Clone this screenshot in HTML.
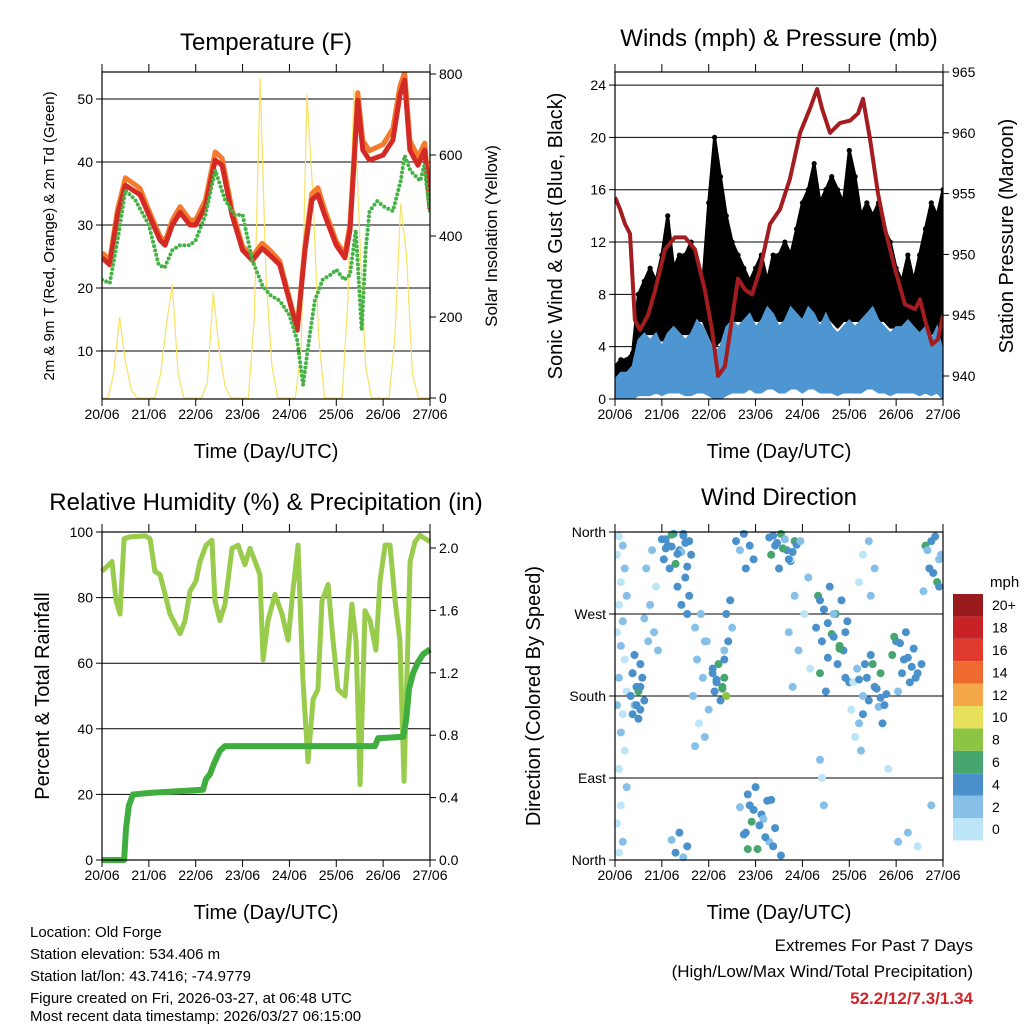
<!DOCTYPE html>
<html><head><meta charset="utf-8">
<style>
html,body{margin:0;padding:0;background:#fff;}
svg{display:block;font-family:"Liberation Sans",sans-serif;}
</style></head>
<body>
<svg id="chart" width="1024" height="1024" viewBox="0 0 1024 1024" xmlns="http://www.w3.org/2000/svg">
<rect width="1024" height="1024" fill="#fff"/>
<g id="g1"></g>
<g id="g2"></g>
<g id="g3"></g>
<g id="g4"></g>
<text x="266" y="50" font-size="24" text-anchor="middle">Temperature (F)</text>
<text x="779" y="46" font-size="24" text-anchor="middle">Winds (mph) &amp; Pressure (mb)</text>
<text x="266" y="510" font-size="24" text-anchor="middle">Relative Humidity (%) &amp; Precipitation (in)</text>
<text x="779" y="505" font-size="24" text-anchor="middle">Wind Direction</text>
<text x="266" y="458" font-size="20" text-anchor="middle">Time (Day/UTC)</text>
<text x="779" y="458" font-size="20" text-anchor="middle">Time (Day/UTC)</text>
<text x="266" y="919" font-size="20" text-anchor="middle">Time (Day/UTC)</text>
<text x="779" y="919" font-size="20" text-anchor="middle">Time (Day/UTC)</text>
<text transform="translate(54,236) rotate(-90)" font-size="15" text-anchor="middle">2m &amp; 9m T (Red, Orange) &amp; 2m Td (Green)</text>
<text transform="translate(497,236) rotate(-90)" font-size="17" text-anchor="middle">Solar Insolation (Yellow)</text>
<text transform="translate(562,236) rotate(-90)" font-size="20" text-anchor="middle">Sonic Wind &amp; Gust (Blue, Black)</text>
<text transform="translate(1013,236) rotate(-90)" font-size="20" text-anchor="middle">Station Pressure (Maroon)</text>
<text transform="translate(49,696) rotate(-90)" font-size="20" text-anchor="middle">Percent &amp; Total Rainfall</text>
<text transform="translate(540,696) rotate(-90)" font-size="20" text-anchor="middle">Direction (Colored By Speed)</text>
<g font-size="15">
<text x="30" y="937">Location: Old Forge</text>
<text x="30" y="959">Station elevation: 534.406 m</text>
<text x="30" y="981">Station lat/lon: 43.7416; -74.9779</text>
<text x="30" y="1003">Figure created on Fri, 2026-03-27, at 06:48 UTC</text>
<text x="30" y="1021">Most recent data timestamp: 2026/03/27 06:15:00</text>
</g>
<text x="973" y="951" font-size="17" text-anchor="end">Extremes For Past 7 Days</text>
<text x="973" y="977" font-size="17" text-anchor="end">(High/Low/Max Wind/Total Precipitation)</text>
<text x="973" y="1004" font-size="17" font-weight="bold" fill="#d0262b" text-anchor="end">52.2/12/7.3/1.34</text>
</svg>
<script>
// ---------- DATA ----------
const dayLabels = ["20/06","21/06","22/06","23/06","24/06","25/06","26/06","27/06"];
const tempTicks = [10,20,30,40,50];
const solarTicks = [0,200,400,600,800];
const windTicks = [0,4,8,12,16,20,24];
const pressTicks = [940,945,950,955,960,965];
const rhTicks = [0,20,40,60,80,100];
const rainTicks = ["0.0","0.4","0.8","1.2","1.6","2.0"];
const dirTicks = ["North","East","South","West","North"];
const dirTickVals = [0,90,180,270,360];
const speedLabels = ["0","2","4","6","8","10","12","14","16","18","20+"];
const speedColors = ["#bde5f8","#86c0e8","#4a91cb","#46a66e","#8bc543","#e6e05a","#f5a84a","#ef6a2e","#df3a2d","#c82126","#9a1b1e"];

const tempHour = [0,4,8,12,16,19.5,24,29.7,32.3,36,40,45,48,53,58,61.5,66.6,72,77,82,86,91,96,100,104,107.5,110.6,114,120,124.4,127,131,133.6,137,144,149,152.6,155,157.7,161.8,165.3,168];
const temp2m = [24.8,23.7,31.6,36.3,35.5,34.8,31.6,27.6,26.8,30,32,30,30,33,40.3,39.5,31.6,26,24.4,26.3,25.2,23.7,18,13.3,26,34,34.8,31.6,26.8,24.8,29.2,49.8,41.9,40.3,41.1,43.5,50.6,53,41.9,39.5,41.9,32.5];
const temp9m = [25.6,24.5,32.5,37.5,36.6,35.8,32.3,28.2,27.4,30.8,32.9,30.8,30.8,34,41.6,40.6,32.4,26.6,25,27.1,26,24.3,18.4,13.6,26.8,35,35.9,32.5,27.4,25.4,30.1,51,43.4,41.8,42.8,45.3,52,54.2,43.4,40.8,43,33.2];
const dewHour = [0,4,8,12,17,24,29,32,36,40,45,48,53,58,63,68,72,77,82,86,91,96,100,103,106,109,113,117,120,124,127,130,133,135,137,141,144,149,153,155,158,163,165,168];
const dew2m = [21.3,20.8,27.6,35.5,34,30,23.7,23.2,26,26.8,26.8,27.6,31.6,38.7,34,31.6,31.6,24.4,20.5,18.9,18,15.7,11.7,4.6,11.7,18,21.3,22.1,22.9,21.3,22.1,29.2,13.3,25.9,32.2,33.8,33,32.2,37,41,38.6,37,39.4,32];
const solar = [0,0,60,200,90,20,0,0,0,0,60,180,280,60,0,0,0,0,40,260,120,30,0,0,0,0,200,790,300,80,0,0,0,0,120,750,500,150,0,0,0,0,250,760,400,80,0,0,0,0,150,480,350,60,0,0,0];

const windHi = [1.5,2,2,2.5,4.5,5,4.5,5,4,5,5.5,5,4.5,5,6,5.5,4.5,3.5,4,5.5,6,5.5,6,6.5,5.5,6,7,6.5,5.5,6,7,6.5,6,7,6.5,5.5,6.5,5.5,5,5.5,6,5.5,6,6.5,7,6,5.5,5,5.5,5.5,6,5.5,5,5.5,4.5,5.5,3.5];
const windLo = [0,0,0,0,0.3,0.3,0.3,0.5,0.3,0.5,0.5,0.5,0.3,0.3,0.5,0.5,0.3,0,0,0.3,0.5,0.5,0.5,0.8,0.5,0.5,0.8,0.8,0.5,0.5,0.8,0.8,0.5,0.8,0.8,0.5,0.5,0.5,0.3,0.5,0.5,0.5,0.5,0.8,0.8,0.5,0.5,0.3,0.5,0.5,0.5,0.5,0.3,0.5,0.3,0.5,0];
const gustHi = [2.5,3,3,3.5,8,9,10,9,11,14,10,11,11,12,10,9,15,20,17,14,12,11,10,9,10,11,9,11,11,12,11,13,15,16,18,15,16,17,16,15,19,17,14,15,14,15,13,12,10,9,11,9,11,13,15,14,16];
const gustLo = [1,1.5,1.5,2,4,5,5,5,4.5,5,5.5,5,5,5,6,6,5,4,4.5,5.5,6,6,6,6.5,6,6,7,6.5,6,6,7,6.5,6,7,6.5,6,6.5,6,5.5,6,6,6,6,6.5,7,6,6,5.5,5.5,5.5,6,5.5,5,5.5,5,5.5,4];
const pressHour = [0,2.6,5.1,7.7,10.2,12.8,16.9,20.5,25.6,30.7,35.9,41,46.1,49.7,52.8,56.3,59.9,63,66.6,70.2,74.3,79.4,84.5,89.6,94.8,99.9,103.5,106,110.1,115.2,120.4,124.5,127,130.6,134.7,138.3,143.4,148.5,153.7,156.2,158.8,162.4,165.4,168];
const pressure = [954.7,953.7,952.5,951.7,944.6,943.8,945,947,950.4,951.4,951.4,950.4,947,943.8,940,940.8,944.6,948,947.1,946.7,948.8,952.5,953.7,956.2,960,962,963.6,962,960,960.8,961,961.6,962.8,959.5,955,952.1,948.8,945.9,945.5,946.3,944.6,942.6,943,945];

const rhHour = [0,5.1,7.2,9.2,11.3,14.3,22,24.6,27.1,29.7,32.3,34.8,37.4,40,42.5,45.1,48.1,50.2,53.3,56.3,57.9,60.4,63,66.6,69.7,73.2,75.8,78.4,80.9,82.5,85,88.6,92.2,95.3,97.8,100.4,102.9,105.5,108.1,110.6,112.7,115.8,118.3,120.9,124.5,128,130.1,132.2,134.7,137.3,140.3,142.4,145,147.5,150.1,152.6,154.7,157.8,160.3,162.9,168];
const rhVal = [88,91,79,75,98,98.5,98.8,98,88,87,81,75,72,69,73,82,85,91,96,97.5,79,73,78,95,96,90,95,91,87,61,73,81,75,67,82,96,55,30,49,52,79,84,67,52,50,78,67,23,76,73,64,85,96,96,79,67,24,91,97,99,97];
const rainHour = [0,11.3,12.3,13.8,15.9,24.6,51.7,53.3,55.3,57.4,60.4,63,101,139.8,141.4,154.2,155.8,157.3,159.4,161.9,164.5,168];
const rainVal = [0,0,0.2,0.35,0.42,0.43,0.45,0.52,0.55,0.62,0.7,0.73,0.73,0.73,0.78,0.79,0.9,1.1,1.2,1.27,1.32,1.35];

const wdHour = [2,4,1,5,3,6,2,4,1,3,5,2,6,1,4,3,5,2,6,3,1,4,2,
 10,13,9,14,11,12,8,15,10,13,9,12,
 19,16,21,18,15,20,17,22,
 30,24,36,27,33,39,25,31,28,35,38,26,34,29,
 36,32,38,34,37,
 44,41,47,42,45,40,48,43,46,41,
 53,50,56,52,55,51,57,54,50,56,
 59,57,60,58,56,
 66,62,69,64,71,67,
 85,79,92,82,88,80,90,84,87,93,
 95,90,99,92,97,89,94,100,91,
 72,68,78,64,75,70,82,66,79,73,85,69,76,67,81,33,29,37,31,35,
 110,104,116,107,113,119,103,111,106,117,109,114,105,120,108,112,118,115,
 124,122,127,121,125,123,126,
 131,128,136,125,133,139,130,135,127,137,
 149,144,153,142,157,147,151,145,155,148,
 130,127,133,125,131,
 164,159,167,161,165,158,162,166,
 105,106,107,150,155,162,140,145,
 26,32,37,29,35, 81,86,89,83,91, 71,74,77,80,68, 105,109,115,118,112,107, 129,134,138,132,136, 146,150,154,143,152, 160,163,166, 46,52,55,13,11,9];
const wdDir = [355,345,335,320,305,290,280,262,250,235,220,200,185,170,160,140,120,100,80,60,40,20,8,
 225,215,205,200,190,185,180,175,170,165,160,155,
 340,320,300,280,265,250,240,230,
 358,352,348,345,340,335,330,325,320,356,350,342,338,357,
 310,300,290,280,270,
 270,255,240,220,200,180,165,150,135,125,
 215,205,200,195,190,185,180,175,210,220,
 285,270,255,240,230,
 358,350,345,340,330,320,
 358,354,350,345,340,335,328,320,352,346,
 350,330,310,290,270,250,230,210,190,
 80,72,65,58,50,42,35,28,20,12,5,60,45,30,15,30,22,15,8,3,
 300,290,285,275,270,262,255,248,240,230,222,215,205,195,185,270,250,232,
 210,195,180,165,150,135,120,
 225,215,205,198,190,182,175,168,160,150,
 250,240,232,225,215,205,195,185,205,220,
 350,335,320,305,290,
 355,345,335,320,305,295,350,330,
 110,90,60,30,15,60,100,20,
 352,336,322,344,358, 356,342,330,348,338, 55,38,25,66,12, 285,260,235,200,245,275, 200,188,170,215,178, 238,222,200,245,212, 340,315,300, 240,198,188, 190,170,205];
const wdSpeed = [0,1,0,1,0,1,0,1,0,1,0,1,0,1,0,1,0,0,1,0,0,1,0,
 3,4,3,4,3,6,4,3,2,3,4,3,
 1,1,0,2,1,1,2,1,
 4,3,4,3,4,3,4,6,3,4,3,4,2,6,
 4,4,3,4,4,
 1,2,1,2,1,2,1,0,1,2,
 6,4,6,3,6,4,7,3,4,3,
 3,4,2,3,2,
 3,4,3,2,4,3,
 6,4,6,3,4,6,3,4,2,4,
 1,0,1,1,0,1,1,0,2,
 4,3,4,2,4,6,3,4,2,6,4,3,2,4,3,3,2,4,3,1,
 4,6,3,4,6,3,4,6,3,4,3,4,6,3,4,2,4,6,
 1,0,1,0,1,0,1,
 4,3,6,4,3,4,3,2,4,3,
 4,3,4,6,3,4,3,2,4,3,
 1,0,1,0,1,
 3,6,2,4,6,1,3,2,
 1,0,1,1,0,1,0,1,
 4,3,4,4,3, 4,6,4,3,4, 4,3,4,4,6, 4,4,6,4,3,4, 4,3,4,6,4, 4,3,4,6,4, 2,3,4, 2,4,6,4,3,4];

// ---------- HELPERS ----------
const NS = "http://www.w3.org/2000/svg";
function mk(tag, attrs, parent){const e=document.createElementNS(NS,tag);for(const k in attrs)e.setAttribute(k,attrs[k]);parent.appendChild(e);return e;}
const hourToX = (x0,x1) => h => x0 + h/168*(x1-x0);
const idxHour = (i,n) => i*168/(n-1);

function frame(g, x0,y0,x1,y1, prefix){
  for(let i=0;i<dayLabels.length;i++){
    const x = x0 + i*(x1-x0)/7;
    const t1 = mk('line',{x1:x,y1:y1,x2:x,y2:y1+7,stroke:'#000','stroke-width':1},g);
    
    
    const t2 = mk('line',{x1:x,y1:y0,x2:x,y2:y0-8,stroke:'#000','stroke-width':1},g);
    
    
    const lb = mk('text',{x:x,y:y1+20,'font-size':14,'text-anchor':'middle'},g);
    lb.textContent = dayLabels[i];
    
    
  }
}
function box(g,x0,y0,x1,y1,prefix){
  const r = mk('rect',{x:x0,y:y0,width:x1-x0,height:y1-y0,fill:'none',stroke:'#000','stroke-width':1.2},g);
  
  
}
function yTicks(g, vals, labels, yf, x, side, grid, x0, x1, prefix){
  for(let i=0;i<vals.length;i++){
    const y = yf(vals[i]);
    if(grid){
      const gl = mk('line',{x1:x0,y1:y,x2:x1,y2:y,stroke:'#000','stroke-width':1},g);
      
      
    }
    const tk = mk('line',{x1:x,y1:y,x2:x+(side==='left'?-6:6),y2:y,stroke:'#000','stroke-width':1},g);
    
    
    const t = mk('text',{x:x+(side==='left'?-9:9),y:y+5,'font-size':14,'text-anchor':side==='left'?'end':'start'},g);
    t.textContent = labels[i];
    
    
  }
}
function pts(hs, vs, xf, yf){return hs.map((h,i)=>xf(h).toFixed(1)+','+yf(vs[i]).toFixed(1)).join(' ');}

// ---------- PANEL 1: TEMPERATURE ----------
(function(){
  const g = document.getElementById('g1');
  const X0=102,X1=430,Y0=72,Y1=399;
  const tx = hourToX(X0,X1);
  const ty = v => 351-(v-10)*6.3;
  const sy = w => 398-w*0.405;
  yTicks(g,tempTicks,tempTicks.map(String),ty,X0,'left',true,X0,X1,'temp-y');
  yTicks(g,solarTicks,solarTicks.map(String),sy,X1,'right',false,X0,X1,'solar-y');
  const cp = mk('clipPath',{id:'c1'},g); mk('rect',{x:X0,y:Y0,width:X1-X0,height:Y1-Y0},cp);
  const d = mk('g',{'clip-path':'url(#c1)'},g);
  const sl = mk('polyline',{points:pts(solar.map((_,i)=>idxHour(i,solar.length)),solar,tx,sy),fill:'none',stroke:'#f8e263','stroke-width':1.2},d);
  
  
  const ol = mk('polyline',{points:pts(tempHour,temp9m,tx,ty),fill:'none',stroke:'#f47b2e','stroke-width':5,'stroke-linejoin':'round'},d);
  
  
  const rl = mk('polyline',{points:pts(tempHour,temp2m,tx,ty),fill:'none',stroke:'#d42a26','stroke-width':5,'stroke-linejoin':'round'},d);
  
  
  const gl = mk('polyline',{points:pts(dewHour,dew2m,tx,ty),fill:'none',stroke:'#44b244','stroke-width':4,'stroke-linecap':'round','stroke-dasharray':'0 4.5','stroke-linejoin':'round'},d);
  
  
  box(g,X0,Y0,X1,Y1,'temp');
  frame(g,X0,Y0,X1,Y1,'temp');
})();

// ---------- PANEL 2: WINDS ----------
(function(){
  const g = document.getElementById('g2');
  const X0=615,X1=943,Y0=72,Y1=399;
  const wx = hourToX(X0,X1);
  const wy = v => 399-v*13.08;
  const py = p => 376-(p-940)*12.16;
  yTicks(g,windTicks,windTicks.map(String),wy,X0,'left',true,X0,X1,'wind-y');
  yTicks(g,pressTicks,pressTicks.map(String),py,X1,'right',false,X0,X1,'pressure-y');
  const cp = mk('clipPath',{id:'c2'},g); mk('rect',{x:X0,y:Y0,width:X1-X0,height:Y1-Y0},cp);
  const d = mk('g',{'clip-path':'url(#c2)'},g);
  const gh = gustHi.map((_,i)=>idxHour(i,gustHi.length));
  const gustPoly = pts(gh,gustHi,wx,wy)+' '+pts(gh.slice().reverse(),gustLo.slice().reverse(),wx,wy);
  const gb = mk('polygon',{points:gustPoly,fill:'#000',stroke:'#000','stroke-width':3,'stroke-linejoin':'round'},d);
  
  
  for(let i=0;i<gustHi.length;i++){
    const c = mk('circle',{cx:wx(gh[i]),cy:wy(gustHi[i]),r:2.6,fill:'#000'},d);
    
    
  }
  const wh = windHi.map((_,i)=>idxHour(i,windHi.length));
  const windPoly = pts(wh,windHi,wx,wy)+' '+pts(wh.slice().reverse(),windLo.slice().reverse(),wx,wy);
  const wb = mk('polygon',{points:windPoly,fill:'#4e96d2',stroke:'#4e96d2','stroke-width':2},d);
  
  
  const pl = mk('polyline',{points:pts(pressHour,pressure,wx,py),fill:'none',stroke:'#a31c1f','stroke-width':4,'stroke-linejoin':'round'},d);
  
  
  box(g,X0,Y0,X1,Y1,'winds');
  frame(g,X0,Y0,X1,Y1,'winds');
})();

// ---------- PANEL 3: HUMIDITY ----------
(function(){
  const g = document.getElementById('g3');
  const X0=102,X1=430,Y0=532,Y1=860;
  const rx = hourToX(X0,X1);
  const ry = p => 860-p*3.28;
  const iy = v => 860-v*156;
  yTicks(g,rhTicks,rhTicks.map(String),ry,X0,'left',true,X0,X1,'rh-y');
  yTicks(g,rainTicks.map(Number),rainTicks,iy,X1,'right',false,X0,X1,'rain-y');
  const cp = mk('clipPath',{id:'c3'},g); mk('rect',{x:X0-3,y:Y0-3,width:X1-X0+6,height:Y1-Y0+6},cp);
  const d = mk('g',{'clip-path':'url(#c3)'},g);
  const rl = mk('polyline',{points:pts(rhHour,rhVal,rx,ry),fill:'none',stroke:'#99cc4c','stroke-width':5,'stroke-linejoin':'round'},d);
  
  
  const pl = mk('polyline',{points:pts(rainHour,rainVal,rx,iy),fill:'none',stroke:'#3fae3f','stroke-width':6,'stroke-linejoin':'round'},d);
  
  
  box(g,X0,Y0,X1,Y1,'rh');
  frame(g,X0,Y0,X1,Y1,'rh');
})();

// ---------- PANEL 4: WIND DIRECTION ----------
(function(){
  const g = document.getElementById('g4');
  const X0=615,X1=943,Y0=532,Y1=860;
  const dx = hourToX(X0,X1);
  const dy = v => 860-v/360*328;
  yTicks(g,dirTickVals,dirTicks,dy,X0,'left',true,X0,X1,'direction-y');
  const cp = mk('clipPath',{id:'c4'},g); mk('rect',{x:X0,y:Y0-4,width:X1-X0,height:Y1-Y0+8},cp);
  const d = mk('g',{'clip-path':'url(#c4)'},g);
  for(let i=0;i<wdHour.length;i++){
    const ci = Math.min(10,Math.floor(wdSpeed[i]/2+0.5));
    const c = mk('circle',{cx:dx(wdHour[i]),cy:dy(wdDir[i]),r:4,fill:speedColors[ci]},d);
    
    
  }
  box(g,X0,Y0,X1,Y1,'direction');
  frame(g,X0,Y0,X1,Y1,'direction');
  // colorbar
  const cb = mk('g',{},g);
  
  
  const u = mk('text',{x:990,y:587,'font-size':15},cb);
  u.textContent='mph';
  
  
  const bh = 22.4;
  for(let i=0;i<speedColors.length;i++){
    const y = 594 + (speedColors.length-1-i)*bh;
    const r = mk('rect',{x:953,y:y,width:30,height:bh,fill:speedColors[i]},cb);
    
    
    const t = mk('text',{x:992,y:y+bh/2+5,'font-size':14},cb);
    t.textContent = speedLabels[i];
    
    
  }
})();
</script>
</body></html>
